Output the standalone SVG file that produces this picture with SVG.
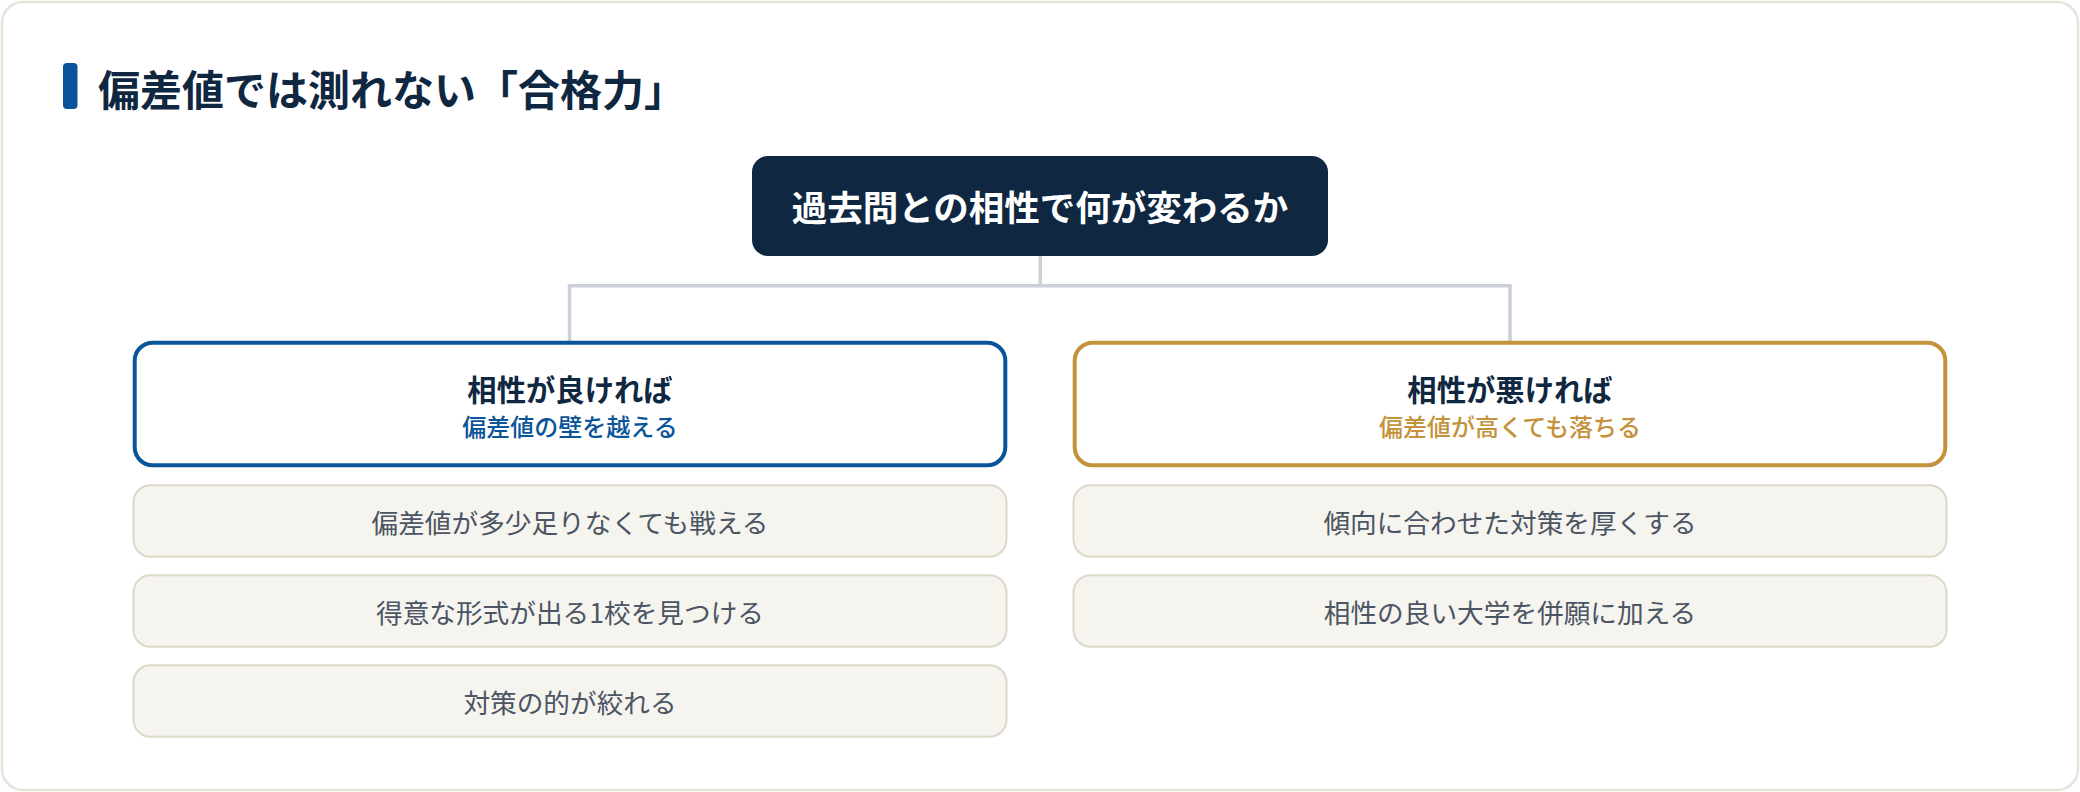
<svg xmlns="http://www.w3.org/2000/svg" width="2080" height="792" viewBox="0 0 2080 792">
  <style>
    text { font-family: "Noto Sans CJK JP", "Noto Sans", sans-serif; text-anchor: middle; }
    .title { font-size: 42px; font-weight: 700; fill: #0f2740; text-anchor: start; }
    .root-text { font-size: 35.5px; font-weight: 700; fill: #ffffff; }
    .branch-title { font-size: 29.33px; font-weight: 700; fill: #0f2740; }
    .sub { font-size: 24px; font-weight: 500; }
    .item { fill: #f6f4ef; stroke: #ddd8c7; stroke-width: 2; }
    .item-text { font-size: 26.67px; font-weight: 400; fill: #4b5563; }
    .conn { fill: none; stroke: #cbd0da; stroke-width: 3.5; }
  </style>

  <rect id="card" x="2" y="2" width="2076" height="788" rx="21" fill="#ffffff" stroke="#e6e3d8" stroke-width="2.5"/>

  <g id="heading">
    <rect x="63" y="63" width="14.5" height="46" rx="4" fill="#0a5499"/>
    <text class="title" x="98" y="105.5">偏差値では測れない「合格力」</text>
  </g>

  <g id="connectors">
    <path class="conn" d="M1040.3 256 V285.8 M569.5 285.8 H1510 M569.5 284 V341 M1510 284 V341"/>
  </g>

  <g id="root">
    <rect x="752" y="156" width="576" height="100" rx="16" fill="#0f2740"/>
    <text class="root-text" x="1040" y="220.5">過去問との相性で何が変わるか</text>
  </g>

  <g id="branch-good">
    <rect x="134.7" y="342.7" width="870.6" height="122.6" rx="18" fill="#ffffff" stroke="#0a5499" stroke-width="4"/>
    <text class="branch-title" x="570" y="401">相性が良ければ</text>
    <text class="sub" x="570" y="436" fill="#0a5499">偏差値の壁を越える</text>
  </g>

  <g id="branch-bad">
    <rect x="1074.7" y="342.7" width="870.6" height="122.6" rx="18" fill="#ffffff" stroke="#c4923a" stroke-width="4"/>
    <text class="branch-title" x="1510" y="401">相性が悪ければ</text>
    <text class="sub" x="1510" y="436" fill="#c4923a">偏差値が高くても落ちる</text>
  </g>

  <g id="good-item-1">
    <rect class="item" x="133.5" y="485.3" width="873" height="71.4" rx="17"/>
    <text class="item-text" x="570" y="533">偏差値が多少足りなくても戦える</text>
  </g>
  <g id="good-item-2">
    <rect class="item" x="133.5" y="575.3" width="873" height="71.4" rx="17"/>
    <text class="item-text" x="570" y="623">得意な形式が出る1校を見つける</text>
  </g>
  <g id="good-item-3">
    <rect class="item" x="133.5" y="665.3" width="873" height="71.4" rx="17"/>
    <text class="item-text" x="570" y="713">対策の的が絞れる</text>
  </g>

  <g id="bad-item-1">
    <rect class="item" x="1073.5" y="485.3" width="873" height="71.4" rx="17"/>
    <text class="item-text" x="1510" y="533">傾向に合わせた対策を厚くする</text>
  </g>
  <g id="bad-item-2">
    <rect class="item" x="1073.5" y="575.3" width="873" height="71.4" rx="17"/>
    <text class="item-text" x="1510" y="623">相性の良い大学を併願に加える</text>
  </g>
</svg>
